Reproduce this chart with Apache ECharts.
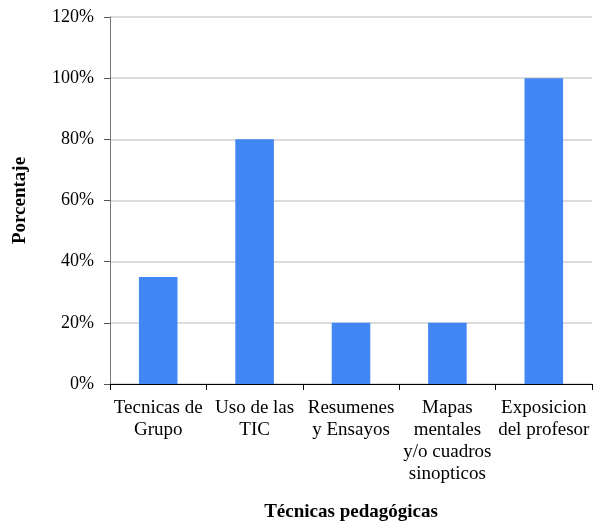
<!DOCTYPE html>
<html>
<head>
<meta charset="utf-8">
<script src="https://cdn.jsdelivr.net/npm/echarts@6/dist/echarts.min.js"></script>
<style>
  html, body { margin: 0; padding: 0; background: #fff; }
  #chart { width: 593px; height: 523px; }
</style>
</head>
<body>
<div id="chart"></div>
<script>
// datos
const categorias = [
  'Tecnicas de\nGrupo',
  'Uso de las\nTIC',
  'Resumenes\ny Ensayos',
  'Mapas\nmentales\ny/o cuadros\nsinopticos',
  'Exposicion\ndel profesor'
];
const porcentajes = [35, 80, 20, 20, 100];
const ticksY = [0, 20, 40, 60, 80, 100, 120];

const fuente = '"Liberation Serif", "Times New Roman", serif';

let myChart = echarts.init(document.getElementById('chart'));
let option = {
  animation: false,
  grid: {
    left: 110,
    right: 1,
    top: 17,
    bottom: 139,
    containLabel: false,
    outerBoundsMode: 'none'
  },
  xAxis: {
    type: 'category',
    data: categorias,
    name: 'Técnicas pedagógicas',
    nameLocation: 'middle',
    nameGap: 119,
    nameTextStyle: { fontFamily: fuente, fontSize: 19, fontWeight: 'bold', color: '#000' },
    axisLine: { lineStyle: { color: '#000', width: 1 } },
    axisTick: { show: true, alignWithLabel: false, length: 6, lineStyle: { color: '#000' } },
    axisLabel: {
      interval: 0,
      margin: 13,
      fontFamily: fuente,
      fontSize: 19,
      lineHeight: 22,
      color: '#000'
    }
  },
  yAxis: {
    type: 'value',
    min: ticksY[0],
    max: ticksY[ticksY.length - 1],
    interval: 20,
    name: 'Porcentaje',
    nameLocation: 'middle',
    nameGap: 80,
    nameRotate: 90,
    nameTextStyle: { fontFamily: fuente, fontSize: 19, fontWeight: 'bold', color: '#000' },
    axisLine: { show: true, lineStyle: { color: '#777', width: 1 } },
    axisTick: { show: true, length: 6, lineStyle: { color: '#555' } },
    splitLine: { lineStyle: { color: '#d0d0d0', width: 1.5 } },
    axisLabel: {
      margin: 16,
      fontFamily: fuente,
      fontSize: 18,
      color: '#000',
      formatter: '{value}%'
    }
  },
  series: [
    {
      type: 'bar',
      data: porcentajes,
      barWidth: '40%',
      itemStyle: { color: '#4286f4' }
    }
  ]
};
myChart.setOption(option);
</script>
</body>
</html>
